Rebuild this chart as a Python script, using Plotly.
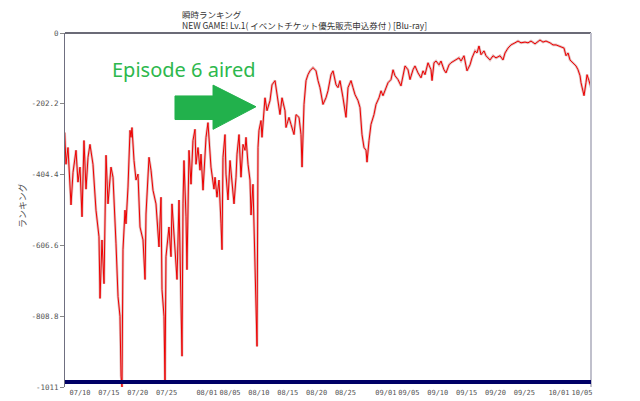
import pandas as pd
import plotly.graph_objects as go

# Days elapsed since 2016-07-10 00:00
day_offsets = [
    -2.65, -2.43, -2.08, -1.73, -1.56, -1.21, -0.69, -0.35, 0.00, 0.35, 0.69, 1.04, 1.39, 1.73,
    2.25, 2.77, 3.29, 3.47, 3.81, 4.16, 4.51, 4.85, 5.37, 5.72, 6.07, 6.24, 6.59, 6.93, 7.11,
    7.28, 7.45, 7.80, 7.97, 8.32, 8.67, 8.84, 9.01, 9.36, 9.71, 10.05, 10.40, 10.92, 11.27,
    11.44, 11.96, 12.31, 12.65, 13.17, 13.69, 14.04, 14.21, 14.56, 14.73, 14.90, 15.42, 15.77,
    15.94, 16.46, 16.81, 17.16, 17.50, 17.68, 17.85, 18.02, 18.37, 18.54, 18.89, 19.24, 19.58,
    19.93, 20.10, 20.45, 20.80, 20.97, 21.32, 21.66, 21.84, 22.18, 22.53, 22.70, 23.22, 23.40,
    23.74, 24.09, 24.44, 24.61, 24.78, 25.13, 25.30, 25.65, 26.00, 26.34, 26.69, 27.04, 27.21,
    27.56, 27.90, 28.25, 28.60, 28.77, 29.12, 29.46, 29.64, 29.98, 30.33, 30.50, 30.68, 30.85,
    31.02, 31.37, 31.54, 32.06, 32.41, 32.93, 33.28, 33.80, 34.14, 34.66, 35.01, 35.53, 35.70,
    36.22, 36.57, 37.09, 37.44, 37.96, 38.30, 38.48, 38.82, 39.17, 39.51, 39.86, 40.38, 40.90,
    41.25, 41.59, 42.11, 42.63, 42.98, 43.50, 43.85, 44.37, 44.71, 45.06, 45.58, 46.10, 46.45,
    46.97, 47.31, 47.66, 48.18, 48.53, 48.87, 49.22, 49.57, 49.74, 50.09, 50.43, 50.95, 51.30,
    51.82, 52.17, 52.51, 52.86, 53.38, 53.90, 54.25, 54.59, 55.11, 55.63, 55.98, 56.33, 56.85,
    57.19, 57.71, 58.06, 58.58, 59.10, 59.45, 59.79, 60.31, 60.83, 61.01, 61.35, 61.70, 62.22,
    62.56, 63.08, 63.43, 63.95, 64.30, 64.82, 65.16, 65.68, 66.03, 66.55, 66.90, 67.07, 67.59,
    67.94, 68.46, 68.80, 69.15, 69.50, 70.02, 70.36, 71.06, 71.58, 72.10, 72.79, 73.31, 73.66,
    74.18, 74.70, 75.39, 75.91, 76.43, 77.12, 77.64, 78.16, 78.86, 79.38, 79.72, 80.24, 80.76,
    81.46, 81.98, 82.50, 83.02, 83.36, 83.88, 84.23, 84.58, 84.92, 85.44, 85.96, 86.31, 86.66,
    86.83, 87.18, 87.35, 87.69, 87.87, 88.21, 88.39, 88.56,
]

# Ranking shown as negative values (higher = better)
ranking = [
    -284, -375, -327, -432, -491, -398, -335, -426, -383, -525, -307, -446, -355, -318,
    -375, -506, -582, -758, -591, -716, -349, -488, -383, -412, -517, -602, -753, -809, -980,
    -1011, -619, -506, -545, -440, -278, -298, -270, -364, -420, -403, -554, -591, -704,
    -517, -355, -392, -449, -488, -611, -469, -733, -809, -1000, -639, -554, -639,
    -488, -602, -704, -477, -753, -923, -488, -364, -525, -676, -335, -432, -307,
    -275, -375, -327, -392, -346, -449, -327, -298, -256, -346, -383, -446, -412,
    -469, -420, -545, -619, -355, -290, -403, -477, -364, -432, -488, -412, -346,
    -290, -412, -318, -335, -298, -375, -420, -520, -432, -639, -733, -895, -327,
    -278, -250, -298, -185, -222, -193, -148, -136, -176, -233, -185, -222, -270,
    -241, -261, -290, -233, -241, -290, -383, -204, -136, -119, -108, -99, -108,
    -136, -156, -204, -185, -165, -119, -108, -148, -156, -136, -185, -241, -156,
    -136, -156, -176, -193, -213, -290, -327, -335, -369, -307, -261, -233, -204,
    -185, -165, -179, -162, -142, -133, -105, -122, -133, -151, -122, -94, -105,
    -133, -105, -94, -114, -128, -108, -119, -85, -105, -136, -85, -80, -91,
    -80, -105, -114, -91, -85, -80, -77, -71, -80, -65, -94, -108, -91,
    -71, -51, -57, -37, -62, -51, -65, -77, -65, -71, -65, -77, -57,
    -43, -34, -28, -23, -28, -26, -28, -23, -31, -23, -20, -26, -23,
    -28, -34, -34, -37, -40, -43, -65, -57, -77, -85, -94, -105, -122,
    -142, -162, -179, -142, -119, -136, -151, -156,
]

tick_dates = ["2016-07-10", "2016-07-15", "2016-07-20", "2016-07-25", "2016-08-01",
              "2016-08-05", "2016-08-10", "2016-08-15", "2016-08-20", "2016-08-25",
              "2016-09-01", "2016-09-05", "2016-09-10", "2016-09-15", "2016-09-20",
              "2016-09-25", "2016-10-01", "2016-10-05"]
tick_labels = ["07/10", "07/15", "07/20", "07/25", "08/01", "08/05", "08/10", "08/15",
               "08/20", "08/25", "09/01", "09/05", "09/10", "09/15", "09/20", "09/25",
               "10/01", "10/05"]

y_tick_vals = [0, -202.2, -404.4, -606.6, -808.8, -1011]
y_tick_text = ["0", "-202.2", "-404.4", "-606.6", "-808.8", "-1011"]

title_lines = ["瞬時ランキング", "NEW GAME! Lv.1( イベントチケット優先販売申込券付 ) [Blu-ray]"]

times = pd.Timestamp("2016-07-10") + pd.to_timedelta(day_offsets, unit="D")

fig = go.Figure()
fig.add_trace(go.Scatter(x=times, y=ranking, mode="lines",
                         line=dict(color="rgba(190,110,110,0.45)", width=2.6),
                         hoverinfo="skip", showlegend=False))
fig.add_trace(go.Scatter(x=times, y=ranking, mode="lines",
                         line=dict(color="#ee0000", width=1),
                         showlegend=False))

W, H = 640, 401
L, R, T, B = 57, 57, 25, 16

fig.update_layout(
    width=W, height=H,
    margin=dict(l=L, r=R, t=T, b=B),
    paper_bgcolor="white", plot_bgcolor="white",
    showlegend=False,
    xaxis=dict(
        type="date",
        range=["2016-07-07 09:36", "2016-10-06 13:26"],
        tickvals=tick_dates, ticktext=tick_labels, tickangle=0,
        showgrid=False, zeroline=False, showline=False, ticks="",
        tickfont=dict(family="DejaVu Sans Mono", size=7, color="#555555"),
    ),
    yaxis=dict(
        range=[-1011, 0],
        tickvals=y_tick_vals, ticktext=y_tick_text,
        showgrid=False, zeroline=False,
        showline=True, linecolor="#6f6f80", linewidth=1,
        ticks="outside", ticklen=4, tickcolor="#888888",
        tickfont=dict(family="DejaVu Sans Mono", size=7.5, color="#555555"),
    ),
    shapes=[
        dict(type="line", xref="paper", yref="paper", x0=0, x1=1, y0=1, y1=1,
             line=dict(color="#3a3a4a", width=1.5)),
        dict(type="line", xref="paper", yref="paper", x0=1, x1=1, y0=0, y1=1,
             line=dict(color="#c0c0cc", width=2)),
        dict(type="line", xref="paper", yref="paper", x0=0, x1=1, y0=0.0139, y1=0.0139,
             line=dict(color="#000066", width=4)),
        dict(type="path", xref="paper", yref="paper",
             path="M 0.2091,0.8222 L 0.2814,0.8222 L 0.2814,0.8528 L 0.3631,0.7917 "
                  "L 0.2814,0.7278 L 0.2814,0.7556 L 0.2091,0.7556 Z",
             fillcolor="#22b14c", line=dict(color="#22b14c", width=1)),
    ],
    annotations=[
        dict(text="<br>".join(title_lines), xref="paper", yref="paper", x=0.2186, y=1.0,
             xanchor="left", yanchor="bottom", align="left", showarrow=False,
             yshift=0,
             font=dict(family="Noto Sans CJK JP", size=8.5, color="#333333")),
        dict(text="ランキング", xref="paper", yref="paper", x=-0.082, y=0.514,
             textangle=-90, showarrow=False, xanchor="center", yanchor="middle",
             font=dict(family="Noto Sans CJK JP", size=9, color="#555555")),
        dict(text="Episode 6 aired", xref="paper", yref="paper", x=0.0856, y=0.897,
             xanchor="left", yanchor="middle", showarrow=False,
             font=dict(family="Noto Sans", size=20, color="#2db84d")),
    ],
)

fig.write_html("out.html")
